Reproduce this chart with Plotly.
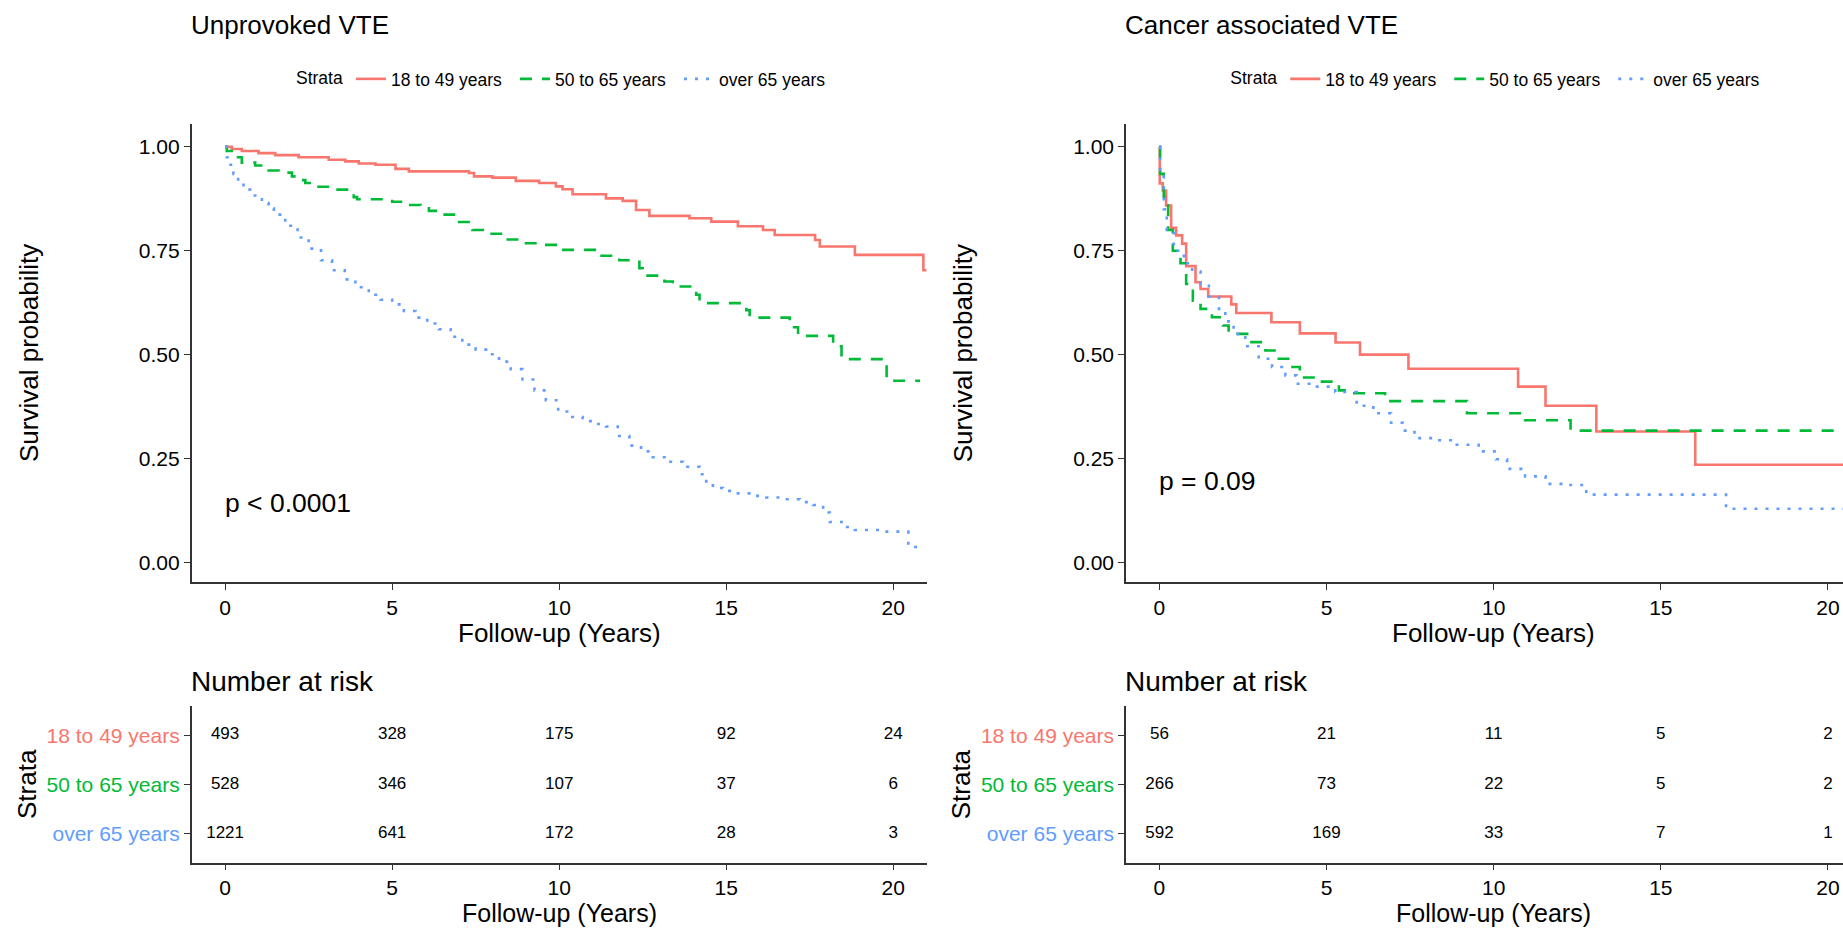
import plotly.graph_objects as go

W, H = 1843, 928
FONT = "Liberation Sans, Arial, sans-serif"

# ---------------- data ----------------
strata = ["18 to 49 years", "50 to 65 years", "over 65 years"]
colors = ["#F8766D", "#00BA38", "#619CFF"]
dashes = ["solid", "12px,10px", "3px,8px"]

# Unprovoked VTE
up_t_1 = [0, 0.2, 0.5, 1.0, 1.5, 2.2, 3.1, 3.6, 4.0, 4.5, 5.1, 5.5, 7.3, 7.45, 8.0, 8.7, 9.4, 9.9,
          10.1, 10.4, 11.4, 11.9, 12.3, 12.7, 13.9, 14.55, 15.35, 16.1, 16.45, 17.66, 17.8, 18.85, 20.9, 21.0]
up_s_1 = [1.0, 0.995, 0.99, 0.985, 0.98, 0.975, 0.969, 0.965, 0.96, 0.957, 0.947, 0.941, 0.937, 0.929,
          0.926, 0.918, 0.913, 0.905, 0.898, 0.886, 0.876, 0.87, 0.848, 0.834, 0.828, 0.82, 0.809, 0.80,
          0.788, 0.776, 0.760, 0.740, 0.703, 0.703]
up_t_2 = [0, 0.05, 0.25, 0.5, 0.9, 1.3, 1.6, 2.0, 2.25, 2.4, 2.7, 3.2, 3.7, 3.85, 3.95, 5.0, 5.5, 5.85,
          6.1, 6.5, 6.85, 6.95, 7.4, 7.8, 8.4, 8.9, 9.35, 10.0, 11.2, 11.8, 12.4, 12.5, 13.15, 13.4, 14.1,
          14.2, 15.6, 15.7, 16.9, 17.15, 18.2, 18.45, 19.8, 20.8]
up_s_2 = [1.0, 0.99, 0.975, 0.962, 0.955, 0.943, 0.938, 0.929, 0.92, 0.913, 0.904, 0.897, 0.888, 0.879,
          0.874, 0.868, 0.86, 0.856, 0.846, 0.837, 0.828, 0.819, 0.80, 0.791, 0.777, 0.768, 0.764, 0.752,
          0.738, 0.727, 0.708, 0.69, 0.676, 0.664, 0.644, 0.624, 0.607, 0.589, 0.566, 0.545, 0.52, 0.489,
          0.437, 0.437]
up_t_3 = [0, 0.05, 0.12, 0.25, 0.39, 0.55, 0.75, 0.9, 1.1, 1.3, 1.46, 1.8, 2.17, 2.5, 2.87, 3.2, 3.58,
          3.9, 4.3, 4.65, 5.0, 5.35, 5.7, 6.05, 6.4, 6.75, 7.1, 7.5, 7.85, 8.2, 8.55, 8.9, 9.26, 9.6, 9.97,
          10.3, 10.7, 11.0, 11.4, 11.75, 12.1, 12.45, 12.8, 13.2, 13.7, 14.2, 14.4, 14.6, 14.9, 15.3, 15.8,
          16.2, 16.7, 17.2, 17.6, 17.9, 18.1, 18.5, 18.85, 19.6, 20.45, 20.95]
up_s_3 = [1.0, 0.975, 0.957, 0.935, 0.915, 0.897, 0.883, 0.874, 0.865, 0.852, 0.837, 0.81, 0.782, 0.755,
          0.727, 0.703, 0.681, 0.662, 0.644, 0.632, 0.621, 0.605, 0.589, 0.575, 0.561, 0.543, 0.524, 0.512,
          0.501, 0.483, 0.465, 0.44, 0.414, 0.39, 0.363, 0.35, 0.34, 0.333, 0.327, 0.304, 0.281, 0.267,
          0.253, 0.242, 0.23, 0.212, 0.195, 0.179, 0.172, 0.166, 0.16, 0.156, 0.152, 0.145, 0.138, 0.12,
          0.097, 0.085, 0.078, 0.074, 0.037, 0.037]

# Cancer associated VTE
ca_t_1 = [0, 0.01, 0.1, 0.2, 0.35, 0.5, 0.68, 0.8, 1.08, 1.23, 1.46, 2.15, 2.3, 3.35, 4.2, 5.27, 6.0,
          7.45, 10.73, 11.55, 13.07, 16.03, 21.0]
ca_s_1 = [1.0, 0.912, 0.895, 0.859, 0.805, 0.787, 0.767, 0.713, 0.674, 0.658, 0.64, 0.621, 0.60, 0.578,
          0.551, 0.529, 0.50, 0.466, 0.423, 0.377, 0.315, 0.235, 0.235]
ca_t_2 = [0, 0.02, 0.13, 0.26, 0.4, 0.63, 0.8, 1.0, 1.23, 1.57, 1.9, 2.07, 2.67, 3.17, 3.52, 3.92, 4.2,
          4.67, 5.2, 5.37, 5.7, 6.75, 9.2, 10.94, 12.3, 21.0]
ca_s_2 = [1.0, 0.935, 0.88, 0.80, 0.75, 0.72, 0.67, 0.63, 0.61, 0.59, 0.57, 0.55, 0.53, 0.51, 0.49, 0.47,
          0.445, 0.435, 0.43, 0.414, 0.407, 0.388, 0.359, 0.342, 0.317, 0.317]
ca_t_3 = [0, 0.02, 0.13, 0.22, 0.43, 0.73, 0.98, 1.23, 1.48, 1.78, 1.97, 2.22, 2.57, 2.97, 3.37, 3.77,
          4.1, 4.67, 5.26, 5.9, 6.4, 6.93, 7.28, 7.63, 8.33, 8.85, 9.55, 10.07, 10.4, 10.94, 11.55, 12.16,
          12.77, 16.95, 21.0]
ca_s_3 = [1.0, 0.93, 0.85, 0.80, 0.75, 0.72, 0.70, 0.67, 0.64, 0.61, 0.58, 0.55, 0.52, 0.49, 0.47, 0.45,
          0.43, 0.423, 0.41, 0.377, 0.359, 0.336, 0.317, 0.299, 0.294, 0.283, 0.267, 0.248, 0.225, 0.207,
          0.189, 0.186, 0.163, 0.129, 0.129]

risk_times = [0, 5, 10, 15, 20]
up_risk_1 = [493, 328, 175, 92, 24]
up_risk_2 = [528, 346, 107, 37, 6]
up_risk_3 = [1221, 641, 172, 28, 3]
ca_risk_1 = [56, 21, 11, 5, 2]
ca_risk_2 = [266, 73, 22, 5, 2]
ca_risk_3 = [592, 169, 33, 7, 1]

y_ticks = [0, 0.25, 0.5, 0.75, 1.0]
y_ticktext = ["0.00", "0.25", "0.50", "0.75", "1.00"]
x_ticks = [0, 5, 10, 15, 20]

panel_titles = ["Unprovoked VTE", "Cancer associated VTE"]
pvals = ["p < 0.0001", "p = 0.09"]
pval_y = [0.143, 0.196]

# ---------------- layout geometry (pixels) ----------------
left_px = [191.7, 1126.0]
right_px = [926.7, 1843.0]
x_range = [[-1, 21], [-1, 20.45]]
main_y_px = (124.0, 582.3)
risk_y_px = (705.7, 863.0)


def px(x):
    return x / W


def py(y):
    return 1 - y / H


fig = go.Figure()

curves = [
    [(up_t_1, up_s_1), (up_t_2, up_s_2), (up_t_3, up_s_3)],
    [(ca_t_1, ca_s_1), (ca_t_2, ca_s_2), (ca_t_3, ca_s_3)],
]
risks = [
    [up_risk_1, up_risk_2, up_risk_3],
    [ca_risk_1, ca_risk_2, ca_risk_3],
]

for p in range(2):
    xa = "x" if p == 0 else "x2"
    ya = "y" if p == 0 else "y2"
    leg = "legend" if p == 0 else "legend2"
    for i in range(3):
        t, s = curves[p][i]
        fig.add_trace(go.Scatter(
            x=t, y=s, mode="lines", name=strata[i], legend=leg,
            line=dict(shape="hv", color=colors[i], width=2.6, dash=dashes[i]),
            xaxis=xa, yaxis=ya, hoverinfo="skip"))
    # risk table
    xr = "x3" if p == 0 else "x4"
    yr = "y3" if p == 0 else "y4"
    for i in range(3):
        fig.add_trace(go.Scatter(
            x=risk_times, y=[3 - i] * len(risk_times), mode="text",
            text=[str(v) for v in risks[p][i]],
            textfont=dict(size=17, color="black", family=FONT),
            textposition="middle center", showlegend=False,
            xaxis=xr, yaxis=yr, hoverinfo="skip"))

axis_common = dict(showline=True, linecolor="#333333", linewidth=1.6, ticks="outside",
                   ticklen=6, tickwidth=1.3, tickcolor="#333333", showgrid=False,
                   zeroline=False, tickfont=dict(size=21, color="black", family=FONT),
                   fixedrange=True)

layout = dict(
    width=W, height=H, margin=dict(l=0, r=0, t=0, b=0),
    paper_bgcolor="white", plot_bgcolor="white",
    font=dict(family=FONT, color="black"),
    showlegend=True,
)

for p in range(2):
    sfx = "" if p == 0 else "2"
    rsfx = "3" if p == 0 else "4"
    dom = [px(left_px[p]), px(right_px[p])]
    layout["xaxis" + sfx] = dict(axis_common, domain=dom, range=x_range[p], tickvals=x_ticks,
                                 anchor="y" + sfx)
    layout["yaxis" + sfx] = dict(axis_common, domain=[py(main_y_px[1]), py(main_y_px[0])],
                                 range=[-0.048, 1.055], tickvals=y_ticks, ticktext=y_ticktext,
                                 anchor="x" + sfx)
    layout["xaxis" + rsfx] = dict(axis_common, domain=dom, range=x_range[p], tickvals=x_ticks,
                                  anchor="y" + rsfx, ticklen=5)
    layout["yaxis" + rsfx] = dict(axis_common, domain=[py(risk_y_px[1]), py(risk_y_px[0])],
                                  range=[0.4, 3.6], tickvals=[3, 2, 1],
                                  ticktext=[f'<span style="color:{c}">{s}</span>'
                                            for s, c in zip(strata, colors)],
                                  anchor="x" + rsfx)
    leg = "legend" if p == 0 else "legend2"
    layout[leg] = dict(orientation="h", x=px(294 + p * 934.3), y=py(79),
                       xanchor="left", yanchor="middle",
                       title=dict(text="Strata", side="left", font=dict(size=17.5, family=FONT)),
                       font=dict(size=17.5, family=FONT, color="black"),
                       bgcolor="rgba(0,0,0,0)", itemwidth=30, entrywidth=119,
                       entrywidthmode="pixels")

fig.update_layout(**layout)

ann = []
for p in range(2):
    off = p * 934.3
    xa = "x" if p == 0 else "x2"
    ya = "y" if p == 0 else "y2"
    xr = "x3" if p == 0 else "x4"
    ann.append(dict(text=panel_titles[p], x=px(189 + off), y=py(25), xref="paper", yref="paper",
                    xanchor="left", yanchor="middle", showarrow=False, font=dict(size=26)))
    ann.append(dict(text="Survival probability", x=px(29 + off), y=py(353), xref="paper",
                    yref="paper", textangle=-90, xanchor="center", yanchor="middle",
                    showarrow=False, font=dict(size=26)))
    ann.append(dict(text="Follow-up (Years)", x=10, xref=xa, y=py(633), yref="paper",
                    xanchor="center", yanchor="middle", showarrow=False, font=dict(size=26)))
    ann.append(dict(text=pvals[p], x=0, xref=xa, y=pval_y[p], yref=ya, xanchor="left",
                    yanchor="middle", xshift=-2, showarrow=False, font=dict(size=26.5)))
    ann.append(dict(text="Number at risk", x=px(189 + off), y=py(681), xref="paper",
                    yref="paper", xanchor="left", yanchor="middle", showarrow=False,
                    font=dict(size=28)))
    ann.append(dict(text="Strata", x=px(27 + off), y=py(784), xref="paper", yref="paper",
                    textangle=-90, xanchor="center", yanchor="middle", showarrow=False,
                    font=dict(size=26)))
    ann.append(dict(text="Follow-up (Years)", x=10, xref=xr, y=0, yref="paper",
                    xanchor="center", yanchor="bottom", showarrow=False, borderpad=0,
                    font=dict(size=25)))
fig.update_layout(annotations=ann)

fig.write_html("out.html", config={"displayModeBar": False},
               post_script="document.body.style.margin='0';document.body.style.overflow='hidden';")
